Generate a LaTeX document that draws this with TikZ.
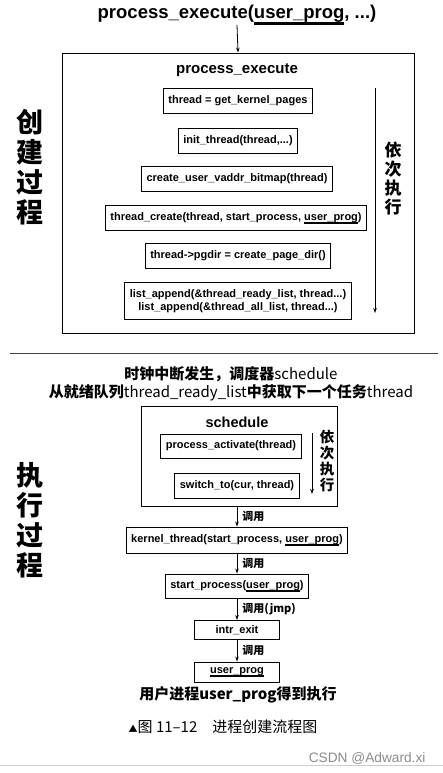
\documentclass[tikz,border=0pt]{standalone}
\usepackage{fontspec}
\setmainfont{Liberation Sans}
\newfontfamily\cjk{Noto Sans CJK SC}
\usetikzlibrary{positioning}
\usetikzlibrary{arrows.meta}

\newsavebox\progbox
\newcommand{\uprog}[1]{\sbox\progbox{#1}\rlap{\usebox\progbox}\rule[-0.32em]{\wd\progbox}{0.13em}}

\tikzset{
  codebox/.style={draw, line width=0.9pt, inner xsep=5pt, minimum height=25pt},
  arr/.style={-{Stealth[length=5pt,width=3.5pt]}, line width=0.8pt},
  calllabel/.style={font=\cjk\bfseries\fontsize{11}{12}\selectfont, inner sep=1pt},
  sidetext/.style={font=\cjk\bfseries\fontsize{27}{30}\selectfont, align=center},
}

\begin{document}
\begin{tikzpicture}[x=1pt, y=-1pt, font=\bfseries\fontsize{11}{13}\selectfont]
      \useasboundingbox (0,0) rectangle (443,773);

      % creation
      \node[inner sep=0pt, font=\bfseries\fontsize{18.5}{20}\selectfont] (title) at (237,15) {process\_execute(\uprog{user\_prog}, ...)};
      \node[draw, line width=0.9pt, minimum width=352pt, minimum height=280pt] (pexec) at (238,193) {};
      \draw[arr] (title.south) -- (pexec.north);
      \node[font=\bfseries\fontsize{15}{16}\selectfont] (pexectitle) at (237,70) {process\_execute};

      \node[codebox] (getpages) at (238,101) {thread = get\_kernel\_pages};
      \node[codebox] (initthread) at (238,141) {init\_thread(thread,...)};
      \node[codebox] (bitmap) at (237,179) {create\_user\_vaddr\_bitmap(thread)};
      \node[codebox] (tcreate) at (236,218) {thread\_create(thread, start\_process, \uprog{user\_prog})};
      \node[codebox] (pgdir) at (238,256) {thread-\textgreater pgdir = create\_page\_dir()};
      \node[codebox, align=center, font=\bfseries\fontsize{11}{12.5}\selectfont, minimum height=37pt] (append) at (238,301)
            {list\_append(\&thread\_ready\_list, thread...)\\list\_append(\&thread\_all\_list, thread...)};

      \coordinate (seqtop) at (375,88);
      \coordinate (seqend) at (375,313);
      \draw[arr] (seqtop) -- (seqend);
      \node[font=\cjk\bfseries\fontsize{17}{19}\selectfont, align=center] (seqlabel) at (393,178) {依\\次\\执\\行};

      \node[sidetext] (createside) at (30,167) {创\\建\\过\\程};

      \coordinate (sepleft) at (10,353);
      \coordinate (sepright) at (438,353);
      \draw[line width=0.8pt, black!75] (sepleft) -- (sepright);

      % execution
      \node[font=\cjk\fontsize{15}{17.5}\selectfont, align=center] (clock) at (231,384)
            {{\bfseries 时钟中断发生，调度器}schedule\\{\bfseries 从就绪队列}thread\_ready\_list{\bfseries 中获取下一个任务}thread};

      \node[draw, line width=0.9pt, minimum width=196pt, minimum height=100pt] (sched) at (239,456) {};
      \node[font=\bfseries\fontsize{14.5}{16}\selectfont] (schedtitle) at (237,422) {schedule};
      \node[codebox, minimum height=24pt] (activate) at (231,446) {process\_activate(thread)};
      \node[codebox, minimum height=25pt] (switchto) at (237,486) {switch\_to(cur, thread)};
      \coordinate (schedtop) at (312,433);
      \coordinate (schedend) at (312,494);
      \draw[arr] (schedtop) -- (schedend);
      \node[font=\cjk\bfseries\fontsize{14.5}{16}\selectfont, align=center] (schedseq) at (327,461) {依\\次\\执\\行};

      \node[sidetext] (runside) at (30,520) {执\\行\\过\\程};

      \node[codebox, minimum height=26pt] (kthread) at (237,540) {kernel\_thread(start\_process, \uprog{user\_prog})};
      \node[codebox, minimum height=24pt] (startproc) at (237,586) {start\_process(\uprog{user\_prog})};
      \node[codebox, minimum height=19pt, minimum width=85pt] (intrexit) at (237,630) {intr\_exit};
      \node[codebox, minimum height=20pt, minimum width=85pt] (userprog) at (237,672) {\uprog{user\_prog}};

      \draw[arr] (sched.south -| kthread) -- node[right=4pt, calllabel] {调用} (kthread);
      \draw[arr] (kthread) -- node[right=4pt, calllabel] {调用} (startproc);
      \draw[arr] (startproc) -- node[right=4pt, calllabel] {调用(jmp)} (intrexit);
      \draw[arr] (intrexit) -- node[right=4pt, calllabel] {调用} (userprog);

      \node[font=\cjk\bfseries\fontsize{15}{16}\selectfont] (result) at (238,695) {用户进程user\_prog得到执行};
      \node[font=\cjk\mdseries\fontsize{15}{16}\selectfont] (caption) at (223,727) {{\fontsize{9}{9}\selectfont ▲}图 11–12\quad 进程创建流程图};

      \node[anchor=east, text=black!45, font=\mdseries\fontsize{13.7}{15}\selectfont] (mark) at (429,758) {CSDN @Adward.xi};
      \coordinate (footleft) at (0,765);
      \coordinate (footright) at (443,765);
      \draw[black!20, line width=0.8pt] (footleft) -- (footright);
\end{tikzpicture}
\end{document}
